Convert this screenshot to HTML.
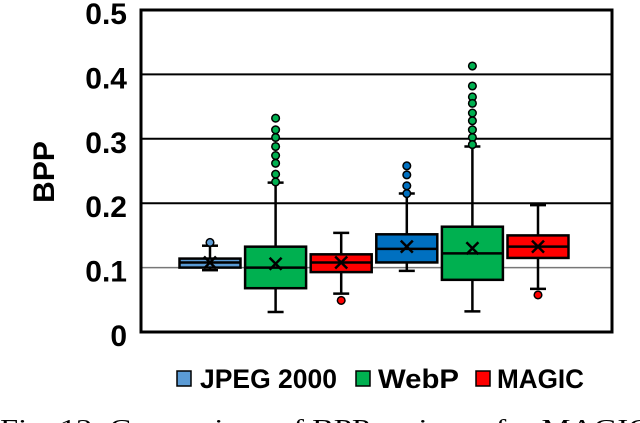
<!DOCTYPE html>
<html><head><meta charset="utf-8"><style>
html,body{margin:0;padding:0;background:#fff;}
svg{display:block;font-family:"Liberation Sans",sans-serif;}
</style></head><body>
<svg id="chart" width="640" height="423" viewBox="0 0 640 423" xmlns="http://www.w3.org/2000/svg">
<g id="grid"></g>
<g id="boxes"></g>
<rect x="141" y="10" width="471" height="322" fill="none" stroke="#000" stroke-width="3"/>
<g id="yticks"></g>
<text transform="translate(54,172) rotate(-90)" text-anchor="middle" font-size="30" font-weight="bold">BPP</text>
<g>
 <g><rect x="177" y="371" width="14" height="15" fill="#5b9bd5" stroke="#000" stroke-width="1.5"/><text x="200" y="388" font-size="27" font-weight="bold" textLength="137" lengthAdjust="spacingAndGlyphs">JPEG 2000</text></g>
 <g><rect x="356" y="371" width="14" height="15" fill="#00b050" stroke="#000" stroke-width="1.5"/><text x="378" y="388" font-size="27" font-weight="bold" textLength="81" lengthAdjust="spacingAndGlyphs">WebP</text></g>
 <g><rect x="476" y="371" width="14" height="15" fill="#ff0000" stroke="#000" stroke-width="1.5"/><text x="497" y="388" font-size="27" font-weight="bold" textLength="87" lengthAdjust="spacingAndGlyphs">MAGIC</text></g>
</g>
<text x="0" y="436" font-family="'Liberation Serif',serif" font-size="24" textLength="650" lengthAdjust="spacingAndGlyphs">Fig. 12: Comparison of BPP variance for MAGIC</text>
</svg>
<script>
const yTicks=[0,0.1,0.2,0.3,0.4,0.5];
const tickLabels=["0","0.1","0.2","0.3","0.4","0.5"];
const groups=["JPEG 2000","WebP","MAGIC","JPEG 2000","WebP","MAGIC"];
const colors=["#5b9bd5","#00b050","#ff0000","#0070c0","#00b050","#ff0000"];
const q1=[0.100,0.068,0.093,0.108,0.081,0.115];
const median=[0.108,0.100,0.108,0.129,0.122,0.1325];
const q3=[0.114,0.1325,0.1206,0.1517,0.1635,0.150];
const mean=[0.108,0.106,0.108,0.1325,0.130,0.1325];
const whiskerLow=[0.096,0.031,0.0595,0.095,0.032,0.067];
const whiskerHigh=[0.134,0.232,0.154,0.215,0.288,0.197];
const outliers=[[0.139],[0.332,0.314,0.302,0.288,0.274,0.262,0.245,0.233],[0.049],[0.258,0.244,0.227,0.215],[0.413,0.382,0.365,0.355,0.340,0.328,0.314,0.302,0.291],[0.0575]];

const NS="http://www.w3.org/2000/svg";
const y=v=>332-v*644;
const x=i=>210+i*65.6;
function mk(tag,attrs,parent){const e=document.createElementNS(NS,tag);for(const k in attrs)e.setAttribute(k,attrs[k]);parent.appendChild(e);return e;}
const grid=document.getElementById('grid'),yt=document.getElementById('yticks'),bx=document.getElementById('boxes');
yTicks.forEach((t,i)=>{
 if(t>0&&t<0.5){const l=mk('line',{x1:141,x2:612,y1:y(t),y2:y(t),stroke:t===0.1?'#777':'#000','stroke-width':t===0.1?1.5:2},grid);
 
 }
 const tx=mk('text',{x:127,y:y(t)+14,'text-anchor':'end','font-size':30,'font-weight':'bold'},yt);
 tx.textContent=tickLabels[i];
 
 
});
groups.forEach((g,i)=>{
 const cx=x(i),w=61,g0=mk('g',{},bx);
 
 
 const s={stroke:'#000','stroke-width':2.5};
 mk('line',Object.assign({x1:cx,x2:cx,y1:y(whiskerHigh[i]),y2:y(q3[i])},s),g0);
 mk('line',Object.assign({x1:cx,x2:cx,y1:y(q1[i]),y2:y(whiskerLow[i])},s),g0);
 mk('line',Object.assign({x1:cx-8,x2:cx+8,y1:y(whiskerHigh[i]),y2:y(whiskerHigh[i])},s),g0);
 mk('line',Object.assign({x1:cx-8,x2:cx+8,y1:y(whiskerLow[i]),y2:y(whiskerLow[i])},s),g0);
 mk('rect',{x:cx-w/2,y:y(q3[i]),width:w,height:y(q1[i])-y(q3[i]),fill:colors[i],stroke:'#000','stroke-width':2.5},g0);
 mk('line',Object.assign({x1:cx-w/2,x2:cx+w/2,y1:y(median[i]),y2:y(median[i])},s),g0);
 const my=y(mean[i]);
 mk('path',Object.assign({d:`M${cx-6},${my-6}L${cx+6},${my+6}M${cx-6},${my+6}L${cx+6},${my-6}`,fill:'none'},s),g0);
 outliers[i].forEach(o=>{const c=mk('circle',{cx:cx,cy:y(o),r:3.8,fill:colors[i],stroke:'#000','stroke-width':1.5},g0);
 
 });
});
</script>
</body></html>
